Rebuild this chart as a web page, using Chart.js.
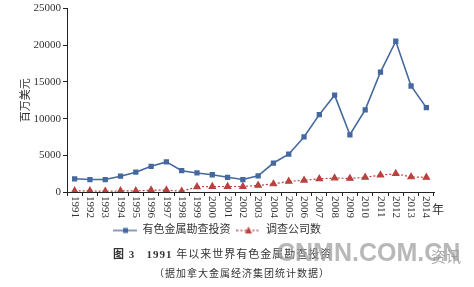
<!DOCTYPE html>
<html>
<head>
<meta charset="utf-8">
<script src="https://cdn.jsdelivr.net/npm/chart.js@4/dist/chart.umd.min.js"></script>
<style>
  body { margin: 0; background: #fff; }
  #wrap { position: relative; width: 474px; height: 287px; overflow: hidden; }
  #chart { position: absolute; left: 0; top: 0; }
  .txt { position: absolute; white-space: nowrap; font-family: "Liberation Serif", "Noto Sans CJK SC", serif; color: #333; }
</style>
</head>
<body>
<div id="wrap">
  <canvas id="chart" width="474" height="246"></canvas>
  <div class="txt" style="left:432px; top:200px; font-size:12px;">年</div>
  <div class="txt" style="left:113px; top:245px; font-size:11px; letter-spacing:1px;"><b>图 3</b>&nbsp;&nbsp;&nbsp;<b>1991</b> 年以来世界有色金属勘查投资</div>
  <div class="txt" style="left:154px; top:265px; font-size:10px; letter-spacing:1px;">（据加拿大金属经济集团统计数据）</div>
  <div class="txt" style="left:277px; top:238px; font-size:25px; font-weight:bold; font-family:'Liberation Sans', sans-serif; color:rgba(160,160,160,0.75);">CNMN.COM.CN</div>
  <div class="txt" style="left:431px; top:245px; font-size:15px; color:rgba(150,150,150,0.8); font-family:'Noto Sans CJK SC', sans-serif;">资讯</div>
</div>
<script>
const years = ['1991','1992','1993','1994','1995','1996','1997','1998','1999','2000','2001','2002',
  '2003','2004','2005','2006','2007','2008','2009','2010','2011','2012','2013','2014'];
const investment = [1800, 1700, 1700, 2150, 2700, 3500, 4100, 2900, 2600, 2350, 2000, 1700,
  2200, 3950, 5150, 7500, 10550, 13200, 7800, 11200, 16350, 20550, 14450, 11500];
const companies = [150, 150, 100, 150, 150, 250, 250, 100, 700, 750, 750, 750,
  900, 1100, 1450, 1600, 1800, 1900, 1850, 2000, 2300, 2500, 2050, 2000];
const yTicks = [0, 5000, 10000, 15000, 20000, 25000];

const blue = '#44689f';
const red = '#b8423f';
const serif = '"Liberation Serif", "Noto Sans CJK SC", serif';

function legendIcon(color, dash, shape) {
  const c = document.createElement('canvas');
  c.width = 24; c.height = 10;
  const g = c.getContext('2d');
  g.strokeStyle = color; g.fillStyle = color; g.lineWidth = 1.3;
  g.setLineDash(dash);
  g.beginPath(); g.moveTo(0, 5); g.lineTo(24, 5); g.stroke();
  g.setLineDash([]);
  if (shape === 'rect') {
    g.fillRect(10, 2.5, 5, 5);
  } else {
    g.beginPath(); g.moveTo(12, 1); g.lineTo(15.5, 8); g.lineTo(8.5, 8); g.closePath(); g.fill();
  }
  return c;
}

// year labels read top-to-bottom like the original, drawn at the scale's tick positions
const xLabels = {
  id: 'xLabels',
  afterDraw(chart) {
    const s = chart.scales.x;
    const ctx = chart.ctx;
    ctx.save();
    ctx.fillStyle = '#333';
    ctx.font = '11px ' + serif;
    ctx.textAlign = 'left';
    ctx.textBaseline = 'middle';
    years.forEach((y, i) => {
      ctx.save();
      ctx.translate(s.getPixelForTick(i), s.top + 4);
      ctx.rotate(Math.PI / 2);
      ctx.fillText(y, 0, 0);
      ctx.restore();
    });
    ctx.restore();
  }
};

new Chart(document.getElementById('chart'), {
  type: 'line',
  data: {
    labels: years,
    datasets: [{
      label: '有色金属勘查投资',
      data: investment,
      borderColor: blue,
      backgroundColor: blue,
      borderWidth: 1.6,
      pointStyle: 'rect',
      pointRadius: 2.6,
      pointHoverRadius: 2.6,
      tension: 0
    }, {
      label: '调查公司数',
      data: companies,
      borderColor: red,
      backgroundColor: red,
      borderWidth: 1.2,
      borderDash: [2, 2],
      pointStyle: 'triangle',
      pointRadius: 3.6,
      pointHoverRadius: 3.6,
      tension: 0
    }]
  },
  plugins: [xLabels],
  options: {
    responsive: false,
    animation: false,
    layout: { padding: { top: 6, right: 40, left: 0, bottom: 0 } },
    plugins: {
      legend: {
        position: 'bottom',
        labels: {
          usePointStyle: true,
          pointStyleWidth: 24,
          color: '#333',
          font: { family: serif, size: 11 },
          padding: 6,
          generateLabels: chart => chart.data.datasets.map((ds, i) => ({
            text: ds.label,
            fillStyle: ds.borderColor,
            strokeStyle: ds.borderColor,
            pointStyle: i === 0 ? legendIcon(blue, [], 'rect') : legendIcon(red, [2, 2], 'tri'),
            datasetIndex: i,
            fontColor: '#333'
          }))
        }
      },
      tooltip: { enabled: false }
    },
    scales: {
      x: {
        offset: true,
        afterFit: s => { s.height = 27; },
        grid: { display: true, drawOnChartArea: false, offset: true, color: '#222', tickLength: 4 },
        border: { color: '#222', width: 1 },
        ticks: { display: false, autoSkip: false }
      },
      y: {
        min: 0, max: 25000,
        afterBuildTicks: s => { s.ticks = yTicks.map(v => ({ value: v })); },
        afterFit: s => { s.width = 67; },
        grid: { display: true, drawOnChartArea: false, color: '#222', tickLength: 4 },
        border: { color: '#222', width: 1 },
        ticks: { color: '#333', font: { family: serif, size: 11 }, padding: 2, callback: v => String(v) },
        title: { display: true, text: '百万美元', color: '#333', font: { family: serif, size: 11 }, padding: { top: 20, bottom: 0 } }
      }
    }
  }
});
</script>
</body>
</html>
